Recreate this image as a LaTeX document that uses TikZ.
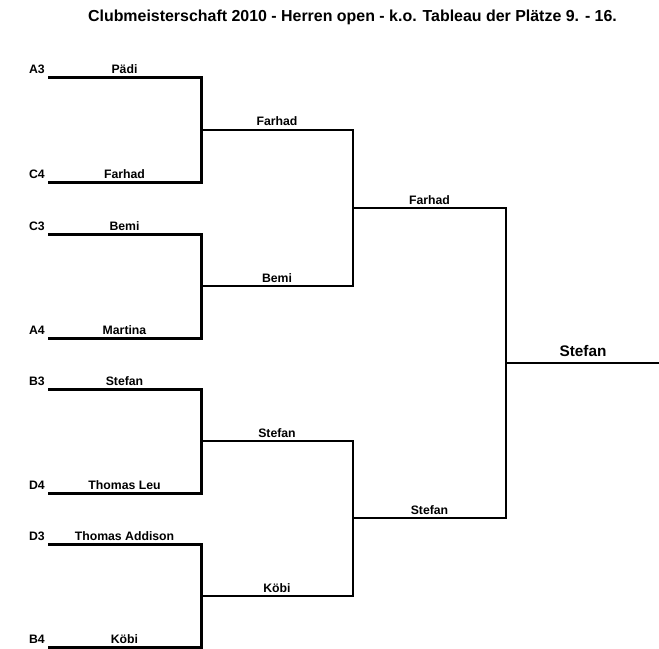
\documentclass[tikz,border=0pt]{standalone}
\usepackage{fontspec}
\setmainfont{Liberation Sans}
\begin{document}
\begin{tikzpicture}[x=1bp,y=-1bp,
  lbl/.style={font=\fontsize{12.3}{14}\selectfont\bfseries, inner sep=0pt, anchor=base},
  seed/.style={lbl, anchor=base east},
  final/.style={lbl, font=\fontsize{15.4}{18}\selectfont\bfseries},
  title/.style={lbl, font=\fontsize{16}{19}\selectfont\bfseries},
  rone/.style={line width=3bp, line join=miter},
  rtwo/.style={line width=2bp, line join=miter}]
\useasboundingbox (0,0) rectangle (659,649);
% title
\node[title] (title) at (352.5,22) {Clubmeisterschaft 2010 - Herren open - k.o. Tableau der Plätze 9. - 16.};
% round 1 coordinates
\foreach \n/\y in {1/78,2/182,3/234,4/338,5/389,6/493,7/544,8/647}{
  \coordinate (s\n) at (48,\y);
  \coordinate (e\n) at (201,\y);
}
% round 2 coordinates
\foreach \n/\y in {1/130,2/286,3/441,4/596}{
  \coordinate (m\n) at (201,\y);
  \coordinate (f\n) at (353,\y);
}
% round 3 coordinates
\foreach \n/\y in {1/208,2/518}{
  \coordinate (q\n) at (353,\y);
  \coordinate (g\n) at (506,\y);
}
\coordinate (z) at (506,363);
\coordinate (zz) at (659,363);
% lines
\draw[rone] (s1) -- (e1) -- (e2) -- (s2);
\draw[rone] (s3) -- (e3) -- (e4) -- (s4);
\draw[rone] (s5) -- (e5) -- (e6) -- (s6);
\draw[rone] (s7) -- (e7) -- (e8) -- (s8);
\draw[rtwo] (m1) -- (f1) -- (f2) -- (m2);
\draw[rtwo] (m3) -- (f3) -- (f4) -- (m4);
\draw[rtwo] (q1) -- (g1) -- (g2) -- (q2);
\draw[rtwo] (z) -- (zz);
% seeds
\foreach \n/\y/\t in {1/78/A3,2/182/C4,3/234/C3,4/338/A4,5/389/B3,6/493/D4,7/544/D3,8/647/B4}{
  \node[seed] (seed\n) at (45,\y-4) {\t};
}
% round 1 names
\foreach \n/\y/\t in {1/78/Pädi,2/182/Farhad,3/234/Bemi,4/338/Martina,5/389/Stefan,6/493/Thomas Leu,7/544/Thomas Addison,8/647/Köbi}{
  \node[lbl] (na\n) at (124.5,\y-4) {\t};
}
% round 2 names
\foreach \n/\y/\t in {1/130/Farhad,2/286/Bemi,3/441/Stefan,4/596/Köbi}{
  \node[lbl] (nb\n) at (277,\y-4) {\t};
}
% round 3 names
\foreach \n/\y/\t in {1/208/Farhad,2/518/Stefan}{
  \node[lbl] (nc\n) at (429.5,\y-4) {\t};
}
\node[final] (winner) at (583,356) {Stefan};
\end{tikzpicture}
\end{document}
